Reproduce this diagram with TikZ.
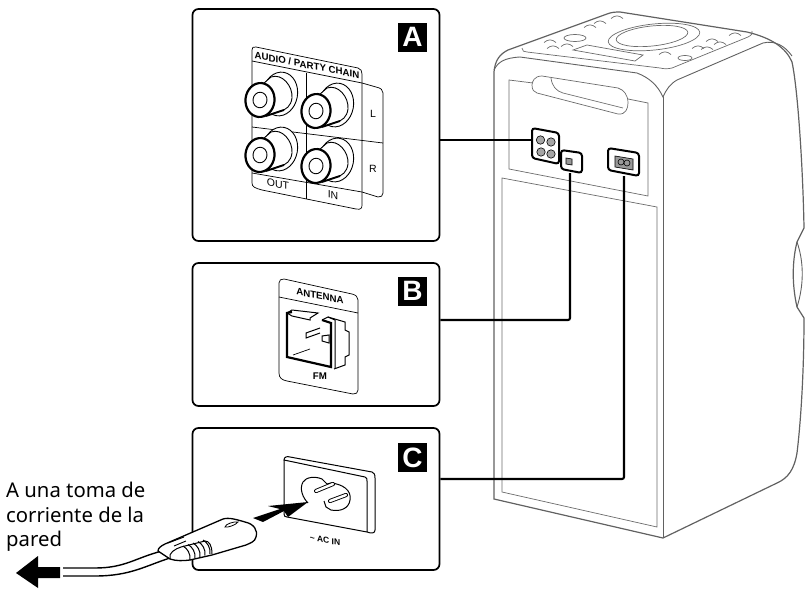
\documentclass[tikz,border=0pt]{standalone}
\usepackage{fontspec}
\setmainfont{Noto Sans}
\setsansfont{Liberation Sans}
\usepackage{xcolor}
\usepackage{tikz}
\usetikzlibrary{positioning}
\newcommand{\jackShape}[2]{%
  \draw[body] (#1+20,#2-6) ellipse [x radius=17.5, y radius=22, rotate=-10];
  \draw[body] (#1+3,#2-16) -- (#1+11,#2-23) .. controls (#1+22,#2-27) and (#1+33,#2-14) .. (#1+32,#2-2)
     .. controls (#1+31,#2+6) and (#1+26,#2+10) .. (#1+20,#2+11) -- (#1+5,#2+16) -- cycle;
  \draw[draw=black,line width=1.8pt] (#1+6,#2+16) -- (#1+24,#2+10);
  \draw[jackfront] (#1,#2) ellipse [x radius=14.5, y radius=17, rotate=-6];
  \draw[jackin] (#1,#2) ellipse [x radius=7, y radius=7.8, rotate=-6];
}
\begin{document}
\begin{tikzpicture}
[x=1pt, y=-1pt,
panel/.style={rectangle,draw=black,line width=1.7pt,rounded corners=6pt,fill=white,minimum width=247pt},
badge/.style={rectangle,fill=black,text=white,font=\sffamily\bfseries\fontsize{28}{28}\selectfont,minimum width=29pt,minimum height=29pt,inner sep=0pt},
tag/.style={font=\sffamily\fontsize{10.5}{11}\selectfont,inner sep=0pt},
tagb/.style={font=\sffamily\bfseries\fontsize{9.7}{10}\selectfont,inner sep=0pt},
tilted/.style={transform shape,cm={1,-.19,0,1,(#1)}},
wire/.style={draw=black,line width=2.1pt,rounded corners=2pt},
portbox/.style={draw=black,line width=2pt,rounded corners=3pt,fill=white},
body/.style={draw=black,line width=.9pt,fill=white},
jackfront/.style={draw=black,line width=2.2pt,fill=white},
jackin/.style={draw=black,line width=.9pt},
outline/.style={draw=black!62,line width=1.2pt},
inner line/.style={draw=black!58,line width=.7pt},
plate/.style={draw=black,line width=.7pt}]
\useasboundingbox (0,0) rectangle (807,592);

% speaker
\draw[outline] (494,499) -- (494,72) .. controls (495,60) and (500,54) .. (508,50) -- (607,14)
  .. controls (612,12) and (616,12) .. (620,12) -- (747,32) .. controls (772,38) and (786,48) .. (792,62)
  .. controls (798,90) and (803,170) .. (804,228) -- (797,242) .. controls (792,262) and (792,285) .. (797,307)
  -- (804,318) .. controls (804,370) and (801,420) .. (797,453) .. controls (794,470) and (788,478) .. (777,483)
  -- (663,538) -- cycle;
\draw[outline,line width=.9pt] (797,242) .. controls (804,262) and (804,285) .. (797,307);
\draw[outline,line width=.9pt] (494,70) .. controls (498,62) and (504,58) .. (520,57) -- (637,73)
  .. controls (650,78) and (658,86) .. (663,97) .. controls (666,90) and (670,84) .. (677,80)
  -- (763,43) .. controls (775,40) and (785,46) .. (792,56);
\draw[outline,line width=.9pt] (663,97) -- (663,538);
\draw[inner line] (502,178) -- (502,492) -- (657,527) -- (657,207) -- cycle;
\draw[inner line] (533,83) -- (509,80) -- (509,169) -- (648,196) -- (648,103) -- (628,99);
\draw[inner line] (542,76) .. controls (534,76) and (532,82) .. (532,85) .. controls (532,90) and (534,92) .. (537,93)
  -- (618,114) .. controls (626,115) and (628,108) .. (628,103) .. controls (628,95) and (624,90) .. (618,88) -- cycle;
\draw[inner line] (551,78) .. controls (552,86) and (556,91) .. (563,93) -- (623,108);
% top panel
\draw[inner line] (522,48) .. controls (522,51) and (524,52) .. (527,52) -- (660,68) .. controls (664,69) and (668,69) .. (672,68)
  -- (748,37) .. controls (752,35) and (753,33) .. (752,31);
\draw[inner line] (654,37) ellipse [x radius=46, y radius=13, rotate=6];
\draw[inner line] (652,36) ellipse [x radius=36, y radius=10, rotate=6];
\draw[inner line] (573,50) -- (587,45) -- (643,55) -- (635,61) -- cycle;
\draw[inner line] (575,38) ellipse [x radius=11, y radius=3.5];
\draw[inner line] (685,58) ellipse [x radius=7, y radius=2.5];
\foreach \bx/\by in {550/41, 567/45, 553/47, 600/22, 617/17, 590/26, 735/34, 712/40, 720/43, 698/47, 707/48, 665/53}
  \draw[inner line] (\bx-6,\by+1.5) .. controls (\bx-2,\by-2) and (\bx+2,\by-2) .. (\bx+6,\by+1.5);

% panels
\node (panelA) [panel, minimum height=232pt] at (316,125) {};
\node (panelB) [panel, minimum height=143pt] at (316,334.5) {};
\node (panelC) [panel, minimum height=142pt] at (316,499) {};
\node (badgeA) [badge] at (412.5,37) {A};
\node (badgeB) [badge] at (412.5,291) {B};
\node (badgeC) [badge] at (412.5,457.5) {C};

% connectors
\coordinate (portA) at (532,140);
\coordinate (portB) at (570,173);
\coordinate (portC) at (624,176);
\draw[wire] (panelA.east |- portA) -- (portA);
\draw[wire] (panelB.east |- 0,320) -- (portB |- 0,320) -- (portB);
\draw[wire] (panelC.east |- 0,479) -- (portC |- 0,479) -- (portC);

% ports on the speaker
\draw[portbox] (532,128) -- (559,133) -- (559,164) -- (532,158) -- cycle;
\draw[portbox] (561,150) -- (582,153) -- (582,173) -- (561,169) -- cycle;
\draw[portbox] (608,148) -- (639,153) -- (639,176) -- (608,170) -- cycle;
\foreach \jx/\jy in {540.5/140, 551/142, 541/152, 551/154}
  \draw[draw=black,line width=.6pt,fill=black!35] (\jx,\jy) circle [radius=4.2];
\draw[draw=black,line width=.6pt,fill=black!40] (566,158) -- (572,159) -- (572,165) -- (566,164) -- cycle;
\draw[draw=black,line width=.6pt,fill=black!40] (615,156) -- (633,159) -- (633,170) -- (615,167) -- cycle;
\draw[draw=black,line width=.6pt] (621,162) circle [radius=3] (627,163) circle [radius=3];

% A
\draw[plate] (252,183) -- (252,50) .. controls (252,47) and (253,47) .. (256,47) -- (358,68) .. controls (361,69) and (362,71) .. (362,74)
  -- (362,205) .. controls (362,208) and (361,210) .. (356,209) -- (262,190) .. controls (255,188) and (252,187) .. (252,183);
\draw[plate] (252,61) -- (362,83) -- (376,87) .. controls (381,88) and (383,90) .. (383,93) -- (383,193)
  .. controls (383,196) and (381,197) .. (378,197) -- (362,192) -- (252,173);
\draw[plate] (252,127) -- (383,143);
\draw[plate] (306,73) -- (306,199);
\foreach \jx/\jy in {260/100, 316/111, 260/155, 316/166}
  {\jackShape{\jx}{\jy}}
\node (audioTag) [tagb, tilted={307,65}] at (0,0) {AUDIO / PARTY CHAIN};
\node (lTag) [tag] at (373,114) {L};
\node (rTag) [tag] at (373,169) {R};
\node (outTag) [tag, tilted={278,184}] at (0,0) {OUT};
\node (inTag) [tag, tilted={333,195}] at (0,0) {IN};

% B
\draw[plate] (279,373) -- (279,283) .. controls (279,280) and (281,279) .. (284,279) -- (352,294) .. controls (356,295) and (358,297) .. (358,300)
  -- (358,390) .. controls (358,393) and (356,394) .. (353,394) -- (287,381) .. controls (282,380) and (279,378) .. (279,373);
\draw[plate] (279,297) -- (358,313);
\node (antennaTag) [tagb, tilted={320,296}] at (0,0) {ANTENNA};
\node (fmTag) [tagb] at (320,376) {FM};
\draw[draw=black,line width=2.2pt] (322,320) -- (331,323) -- (331,367) -- (287,357) -- (287,313) -- (292,312);
\draw[plate,line width=1pt] (292,310) -- (318,313) -- (310,318) -- (310,320) -- (292,316) -- (287,313) -- cycle;
\draw[plate,line width=1pt] (322,320) -- (328,317) -- (345,322) -- (345,330) -- (349,332) -- (349,355) -- (345,357) -- (345,365) -- (334,369);
\draw[plate,line width=1pt] (328,317) -- (335,320) -- (335,368);
\draw[plate,line width=1pt] (320,328) -- (306,333) -- (306,338) -- (320,333);
\draw[plate,line width=1pt] (322,336) -- (322,341) -- (329,343) -- (329,335) -- cycle;
\draw[plate] (293,355) -- (310,349);

% C
\draw[plate,line width=1pt] (284,460) -- (284,514) .. controls (284,516) and (285,517) .. (287,517) -- (367,532) .. controls (372,534) and (375,533) .. (375,530)
  -- (375,478) .. controls (375,474) and (374,473) .. (372,472) -- (290,457) .. controls (287,456) and (284,457) .. (284,460) -- (365,477) .. controls (367,478) and (367,479) .. (367,481) -- (367,532);
\draw[plate,line width=1pt] (308,503) .. controls (303,498) and (299,489) .. (303,482) .. controls (306,477) and (315,476) .. (322,479)
  -- (327,484) -- (331,483) .. controls (342,484) and (352,490) .. (350,500) .. controls (349,508) and (341,512) .. (331,510)
  -- (326,507) -- (324,501);
\draw[draw=black,line width=4.2pt,line cap=round] (316,491) -- (333,484);
\draw[draw=white,line width=2.4pt,line cap=round] (316,491) -- (333,484);
\draw[draw=black,line width=4.2pt,line cap=round] (330,501) -- (346,495);
\draw[draw=white,line width=2.4pt,line cap=round] (330,501) -- (346,495);
\node (acTag) [tagb, tilted={325,540}, font=\sffamily\bfseries\fontsize{8.5}{9}\selectfont] at (0,0) {\textasciitilde\ AC IN};
\fill[black] (253,518) -- (280,509) -- (268,506) -- (308,502) -- (288,517) -- (284,511) -- (263,522) -- cycle;

% plug and cable
\draw[draw=black,line width=1.4pt] (63,568) -- (95,568) .. controls (125,568) and (135,558) .. (162,551);
\draw[draw=black,line width=1.4pt] (63,576) -- (95,576) .. controls (130,576) and (145,566) .. (170,558);
\fill[black] (16,573) -- (38,556) -- (38,567) -- (60,567) -- (60,578) -- (38,578) -- (38,588) -- cycle;
\draw[draw=black,line width=1.3pt,fill=white,line join=round] (158,551) .. controls (158,548) and (161,546) .. (165,544) -- (223,519)
  .. controls (229,517) and (238,520) .. (245,522) .. controls (254,524) and (258,530) .. (256,537) .. controls (255,542) and (250,543) .. (246,545)
  -- (212,555) -- (190,560) .. controls (183,561) and (176,561) .. (170,559) -- cycle;
\draw[draw=black,line width=1pt] (170,559) .. controls (168,553) and (175,549) .. (181,547) -- (205,541) .. controls (209,541) and (212,545) .. (212,554);
\foreach \rx in {0,5,...,20}
  \draw[draw=black,line width=1pt] (183+\rx,546-.3*\rx) .. controls (187+\rx,548-.3*\rx) and (191+\rx,554-.3*\rx) .. (190+\rx,560-.3*\rx);
\draw[draw=black,line width=.9pt] (168,543) -- (184,537) (174,546) -- (186,541);
\draw[draw=black,line width=.8pt,fill=white] (225,527) .. controls (225,524) and (235,521) .. (238,522) .. controls (236,525) and (227,528) .. (225,527) -- cycle;

% wall text
\node (wallTag) [align=left, anchor=north west, inner sep=0pt, font=\fontsize{20.3}{24.5}\selectfont] at (6,482) {A una toma de\\corriente de la\\pared};
\end{tikzpicture}
\end{document}
